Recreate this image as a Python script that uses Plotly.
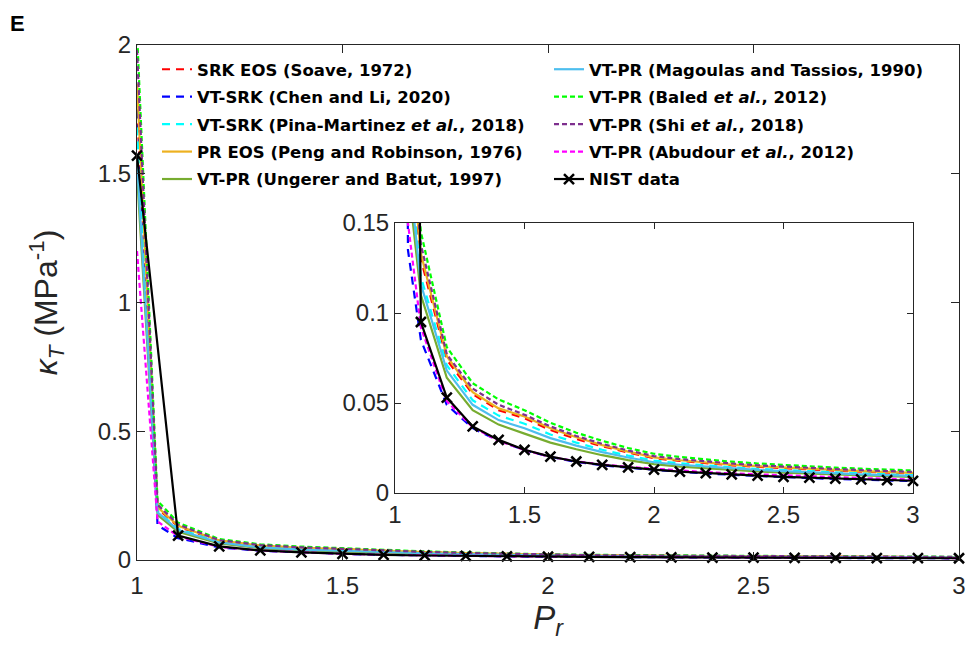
import plotly.graph_objects as go

# ---------------- data ----------------
pr_nist = [1.0, 1.1, 1.2, 1.3, 1.4, 1.5, 1.6, 1.7, 1.8, 1.9, 2.0,
           2.1, 2.2, 2.3, 2.4, 2.5, 2.6, 2.7, 2.8, 2.9, 3.0]
kt_nist = [1.57, 0.095, 0.053, 0.037, 0.0295, 0.024, 0.0202, 0.0175, 0.0156, 0.0142, 0.013,
           0.0119, 0.011, 0.0103, 0.0096, 0.009, 0.0085, 0.008, 0.0076, 0.0072, 0.0068]

pr_model = [1.0, 1.05, 1.1, 1.2, 1.3, 1.4, 1.5, 1.6, 1.7, 1.8, 1.9, 2.0,
            2.1, 2.2, 2.3, 2.4, 2.5, 2.6, 2.7, 2.8, 2.9, 3.0]

kt_srk = [1.75, 0.2, 0.13, 0.074, 0.055, 0.046, 0.0415, 0.035, 0.030, 0.026, 0.0225, 0.0193,
          0.0178, 0.0165, 0.0154, 0.0145, 0.0137, 0.013, 0.0124, 0.0119, 0.0114, 0.0109]
kt_vtsrk_chen = [1.8, 0.135, 0.085, 0.049, 0.036, 0.029, 0.0238, 0.020, 0.0173, 0.0154, 0.014, 0.0128,
                 0.0117, 0.0108, 0.0101, 0.0094, 0.0088, 0.0083, 0.0078, 0.0074, 0.007, 0.0066]
kt_vtsrk_pina = [1.68, 0.19, 0.12, 0.071, 0.0515, 0.043, 0.0385, 0.0325, 0.028, 0.024, 0.0208, 0.018,
                 0.0165, 0.0153, 0.0143, 0.0134, 0.0127, 0.012, 0.0114, 0.0109, 0.0104, 0.01]
kt_pr = [1.85, 0.205, 0.133, 0.076, 0.056, 0.047, 0.0425, 0.036, 0.031, 0.0266, 0.023, 0.0198,
         0.0182, 0.0169, 0.0158, 0.0149, 0.0141, 0.0134, 0.0128, 0.0122, 0.0117, 0.0112]
kt_vtpr_ungerer = [1.5, 0.175, 0.11, 0.064, 0.046, 0.038, 0.033, 0.028, 0.0243, 0.021, 0.0183, 0.016,
                   0.0147, 0.0137, 0.0128, 0.012, 0.0113, 0.0107, 0.0102, 0.0097, 0.0093, 0.0089]
kt_vtpr_magoulas = [1.55, 0.185, 0.116, 0.068, 0.049, 0.0405, 0.036, 0.0305, 0.0263, 0.0227, 0.0197, 0.0171,
                    0.0157, 0.0146, 0.0136, 0.0128, 0.0121, 0.0114, 0.0109, 0.0104, 0.0099, 0.0095]
kt_vtpr_baled = [2.05, 0.23, 0.145, 0.081, 0.061, 0.052, 0.046, 0.039, 0.0335, 0.029, 0.025, 0.0218,
                 0.02, 0.0186, 0.0174, 0.0164, 0.0155, 0.0148, 0.0141, 0.0135, 0.013, 0.0125]
kt_vtpr_shi = [1.98, 0.215, 0.138, 0.077, 0.058, 0.049, 0.0435, 0.037, 0.0317, 0.0273, 0.0236, 0.0205,
               0.0188, 0.0175, 0.0164, 0.0154, 0.0146, 0.0139, 0.0133, 0.0127, 0.0122, 0.0117]
kt_vtpr_abudour = [1.2, 0.15, 0.092, 0.051, 0.0365, 0.029, 0.0238, 0.0201, 0.0176, 0.0158, 0.0145, 0.0134,
                   0.0124, 0.0116, 0.0109, 0.0103, 0.0097, 0.0092, 0.0087, 0.0083, 0.0079, 0.0075]

x_ticks = [1, 1.5, 2, 2.5, 3]
y_ticks_main = [0, 0.5, 1, 1.5, 2]
y_ticks_inset = [0, 0.05, 0.1, 0.15]

series = [
    ("SRK EOS (Soave, 1972)", kt_srk, "#FF0000", "8px,6px", "legend"),
    ("VT-SRK (Chen and Li, 2020)", kt_vtsrk_chen, "#0000FF", "8px,6px", "legend"),
    ("VT-SRK (Pina-Martinez <i>et al.</i>, 2018)", kt_vtsrk_pina, "#00FFFF", "8px,6px", "legend"),
    ("PR EOS (Peng and Robinson, 1976)", kt_pr, "#EDB120", "solid", "legend"),
    ("VT-PR (Ungerer and Batut, 1997)", kt_vtpr_ungerer, "#77AC30", "solid", "legend"),
    ("VT-PR (Magoulas and Tassios, 1990)", kt_vtpr_magoulas, "#4DBEEE", "solid", "legend2"),
    ("VT-PR (Baled <i>et al.</i>, 2012)", kt_vtpr_baled, "#00FF00", "5px,3px", "legend2"),
    ("VT-PR (Shi <i>et al.</i>, 2018)", kt_vtpr_shi, "#7E2F8E", "5px,3px", "legend2"),
    ("VT-PR (Abudour <i>et al.</i>, 2012)", kt_vtpr_abudour, "#FF00FF", "5px,3px", "legend2"),
]

fig = go.Figure()

for i, (name, vals, col, dash, lg) in enumerate(series):
    fig.add_trace(go.Scatter(x=pr_model, y=vals, mode="lines", name=name,
                             legendgroup=f"g{i}",
                             line=dict(color=col, width=2.2, dash=dash),
                             legend=lg, xaxis="x", yaxis="y"))
fig.add_trace(go.Scatter(x=pr_nist, y=kt_nist, mode="lines+markers", name="NIST data",
                         legendgroup="gnist",
                         line=dict(color="black", width=2.2),
                         marker=dict(symbol="x-thin", size=10, line=dict(color="black", width=2.5)),
                         cliponaxis=False, legend="legend2", xaxis="x", yaxis="y"))

# inset copies
for name, vals, col, dash, lg in series:
    fig.add_trace(go.Scatter(x=pr_model, y=vals, mode="lines", showlegend=False,
                             line=dict(color=col, width=2.2, dash=dash),
                             xaxis="x2", yaxis="y2"))
fig.add_trace(go.Scatter(x=pr_nist, y=kt_nist, mode="lines", showlegend=False,
                         line=dict(color="black", width=2.2), xaxis="x2", yaxis="y2"))
fig.add_trace(go.Scatter(x=pr_nist[1:], y=kt_nist[1:], mode="markers", showlegend=False,
                         marker=dict(symbol="x-thin", size=10, line=dict(color="black", width=2.5)),
                         cliponaxis=False, xaxis="x2", yaxis="y2"))

FONT = "Liberation Sans, Arial, sans-serif"
tickfont = dict(family=FONT, size=24, color="#262626")
axcommon = dict(showline=True, linecolor="#262626", linewidth=1, mirror="ticks",
                ticks="inside", tickcolor="#262626", showgrid=False, zeroline=False,
                tickfont=tickfont, automargin=False)

# body margin is removed by the post script, so page pixels == figure pixels
W, H = 970, 655
L, R, T, B = 137, 959, 45, 560
pw, ph = R - L, B - T


def px_x(p):
    return (p - L) / pw


def px_y(p):
    return (B - p) / ph


legfont = dict(family="DejaVu Sans, sans-serif", size=16.5, color="black", weight="bold")

fig.update_layout(
    template="none",
    width=W, height=H, autosize=False,
    margin=dict(l=L, r=W - R, t=T, b=H - B, pad=0, autoexpand=False),
    paper_bgcolor="white", plot_bgcolor="white",
    xaxis=dict(range=[1, 3], tickvals=x_ticks, ticklen=8, ticklabelstandoff=4, **axcommon,
               title=dict(text="<i>P</i><sub><i>r</i></sub>",
                          font=dict(family=FONT, size=33, color="#262626"),
                          standoff=4)),
    yaxis=dict(range=[0, 2], tickvals=y_ticks_main, ticklen=8, **axcommon,
               title=dict(text="<i>κ</i><sub><i>T</i></sub> (MPa<sup>-1</sup>)",
                          font=dict(family=FONT, size=32, color="#262626"),
                          standoff=30)),
    xaxis2=dict(range=[1, 3], tickvals=x_ticks, ticklen=6, anchor="y2",
                domain=[px_x(395), px_x(913)], **axcommon),
    yaxis2=dict(range=[0, 0.15], tickvals=y_ticks_inset, ticklen=6, anchor="x2",
                domain=[px_y(493), px_y(223)], **axcommon),
    legend=dict(x=px_x(157), y=px_y(52), xanchor="left", yanchor="top",
                bgcolor="rgba(0,0,0,0)", borderwidth=0, itemwidth=30, font=legfont,
                traceorder="grouped", tracegroupgap=3),
    legend2=dict(x=px_x(549), y=px_y(52), xanchor="left", yanchor="top",
                 bgcolor="rgba(0,0,0,0)", borderwidth=0, itemwidth=30, font=legfont,
                 traceorder="grouped", tracegroupgap=3),
    annotations=[dict(text="<b>E</b>", xref="paper", yref="paper", x=px_x(8), y=px_y(9),
                      xanchor="left", yanchor="top", showarrow=False,
                      font=dict(family=FONT, size=22, color="black"))],
)

fig.write_html("out.html",
               config={"displayModeBar": False},
               post_script="document.body.style.margin='0px';"
                           "document.body.style.overflow='hidden';")
